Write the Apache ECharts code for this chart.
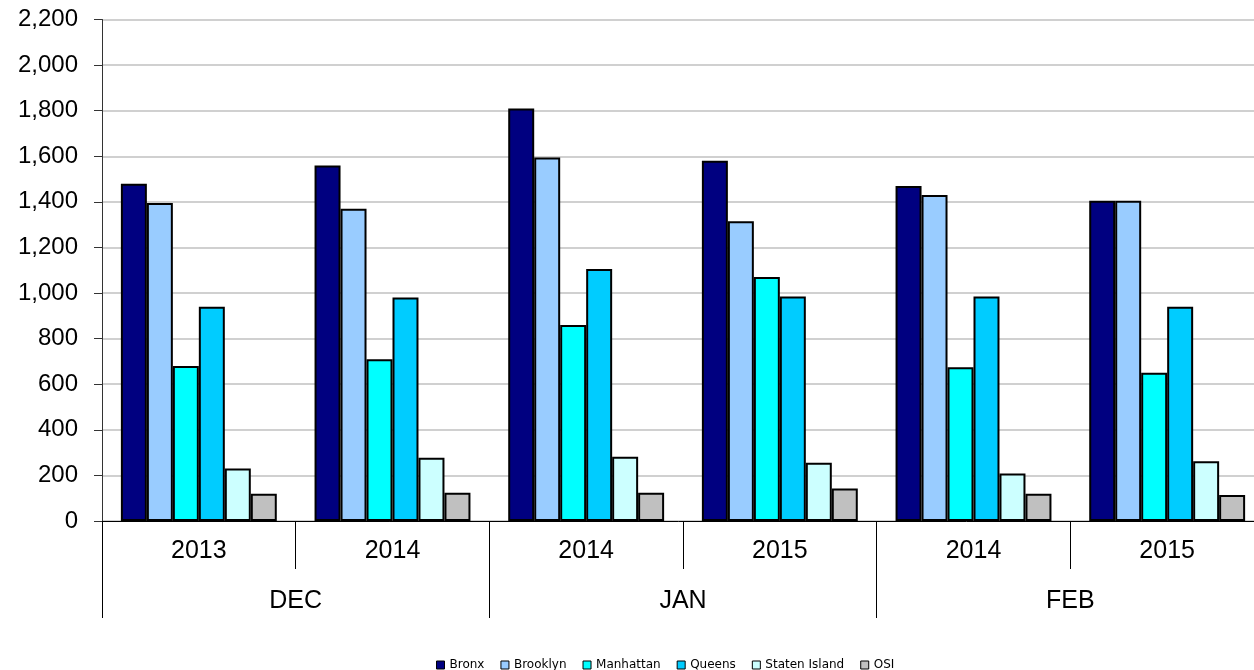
<!DOCTYPE html>
<html>
<head>
<meta charset="utf-8">
<script src="https://cdn.jsdelivr.net/npm/echarts@6/dist/echarts.min.js"></script>
<style>
  html, body { margin: 0; padding: 0; background: #fff; }
  #chart { width: 1254px; height: 670px; }
</style>
</head>
<body>
<div id="chart"></div>
<script>
// Year labels (inner axis row) and month labels (outer axis row)
const years = ['2013', '2014', '2014', '2015', '2014', '2015'];
const months = ['DEC', 'JAN', 'FEB'];

// Borough series
const bronx        = [1480, 1560, 1810, 1580, 1470, 1405];
const brooklyn     = [1395, 1370, 1595, 1315, 1430, 1405];
const manhattan    = [680, 710, 860, 1070, 675, 650];
const queens       = [940, 980, 1105, 985, 985, 940];
const statenIsland = [230, 278, 282, 255, 208, 262];
const osi          = [120, 124, 124, 143, 120, 114];

const yTicks = { min: 0, max: 2200, interval: 200 };

const seriesDefs = [
  { name: 'Bronx', data: bronx, color: '#000080' },
  { name: 'Brooklyn', data: brooklyn, color: '#99CCFF' },
  { name: 'Manhattan', data: manhattan, color: '#00FFFF' },
  { name: 'Queens', data: queens, color: '#00CCFF' },
  { name: 'Staten Island', data: statenIsland, color: '#CCFFFF' },
  { name: 'OSI', data: osi, color: '#C0C0C0' }
];

const font = '"Liberation Sans", Arial, sans-serif';
const chart = echarts.init(document.getElementById('chart'), null, { renderer: 'canvas' });

chart.setOption({
  animation: false,
  backgroundColor: '#ffffff',
  // plot area runs a little past the right edge of the canvas
  grid: {
    left: 102, width: 1162, top: 19.5, height: 501.5,
    containLabel: false, outerBoundsMode: 'none'
  },
  legend: {
    data: seriesDefs.map(s => s.name),
    top: 654,
    left: 431,
    itemWidth: 8,
    itemHeight: 8,
    itemGap: 16,
    icon: 'rect',
    itemStyle: { borderColor: '#000', borderWidth: 1 },
    textStyle: { fontFamily: '"DejaVu Sans", sans-serif', fontSize: 12, color: '#000' }
  },
  xAxis: [
    {
      type: 'category',
      data: years,
      position: 'bottom',
      boundaryGap: true,
      axisLine: { show: true, lineStyle: { color: '#000', width: 1 } },
      axisTick: { show: true, interval: 0, length: 48, lineStyle: { color: '#000', width: 1 } },
      axisLabel: { interval: 0, margin: 18, fontFamily: font, fontSize: 25, color: '#000' },
      splitLine: { show: false }
    },
    {
      type: 'category',
      data: months,
      position: 'bottom',
      boundaryGap: true,
      axisLine: { show: false },
      axisTick: { show: true, interval: 0, length: 97, lineStyle: { color: '#000', width: 1 } },
      axisLabel: { interval: 0, margin: 68, fontFamily: font, fontSize: 25, color: '#000' },
      splitLine: { show: false }
    }
  ],
  yAxis: {
    type: 'value',
    min: yTicks.min,
    max: yTicks.max,
    interval: yTicks.interval,
    axisLine: { show: true, lineStyle: { color: '#333', width: 1 } },
    axisTick: { show: true, length: 8, lineStyle: { color: '#333' } },
    axisLabel: {
      margin: 24,
      fontFamily: font,
      fontSize: 24,
      color: '#000',
      formatter: v => v.toLocaleString('en-US')
    },
    splitLine: { show: true, lineStyle: { color: '#c0c0c0', width: 1.5 } }
  },
  series: seriesDefs.map(s => ({
    name: s.name,
    type: 'bar',
    xAxisIndex: 0,
    data: s.data,
    barGap: '0%',
    barCategoryGap: '19.5%',
    itemStyle: { color: s.color, borderColor: '#000', borderWidth: 2 }
  }))
});
</script>
</body>
</html>
